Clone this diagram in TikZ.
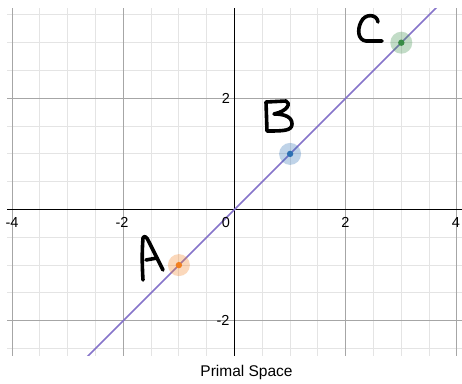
\documentclass[tikz,border=0pt]{standalone}
\usepackage{fontspec}
\setmainfont{Liberation Sans}
\begin{document}
\begin{tikzpicture}[x=1pt,y=-1pt]
\definecolor{minorgrid}{HTML}{E4E4E4}
\definecolor{majorgrid}{HTML}{A6A6A6}
\definecolor{lineviolet}{RGB}{134,116,202}
\definecolor{dotorange}{HTML}{F27F1F}
\definecolor{dotblue}{HTML}{2D70B3}
\definecolor{dotgreen}{HTML}{388C46}
\tikzset{
  minorline/.style={minorgrid, line width=0.9pt},
  majorline/.style={majorgrid, line width=1pt},
  axisline/.style={black, line width=1.5pt},
  ticklabel/.style={font=\fontsize{14.5}{14.5}\selectfont, inner sep=0pt},
  hand/.style={black, line width=3.6pt, line cap=round, line join=round},
  halo/.style={fill=#1, fill opacity=0.3},
  dotfill/.style={fill=#1},
}
\useasboundingbox (0,0) rectangle (462,383);
\fill[white] (0,0) rectangle (462,383);
\begin{scope}[shift={(234.5,209.5)}, x=55.6pt, y=55.6pt]
  \begin{scope}
    \clip (-4.09,-2.617) rectangle (4.2,3.61);
    \foreach \i in {-9,...,9} {
      \draw[minorline] (\i/2,-2.8) -- (\i/2,3.8);
      \draw[minorline] (-4.3,\i/2) -- (4.3,\i/2);
    }
    \foreach \i in {-4,-2,2,4} {
      \draw[majorline] (\i,-2.8) -- (\i,3.8);
      \draw[majorline] (-4.3,\i) -- (4.3,\i);
    }
    \draw[axisline] (-4.3,0) -- (4.3,0);
    \draw[axisline] (0,-2.8) -- (0,3.8);
    \coordinate (lineS) at (-2.8,-2.8);
    \coordinate (lineE) at (3.8,3.8);
    \draw[lineviolet, line width=1.7pt] (lineS) -- (lineE);
  \end{scope}
  \coordinate (A) at (-1,-1);
  \coordinate (B) at (1,1);
  \coordinate (C) at (3,3);
  \fill[halo=dotorange] (A) circle (11pt);
  \fill[dotfill=dotorange] (A) circle (3.2pt);
  \fill[halo=dotblue] (B) circle (11pt);
  \fill[dotfill=dotblue] (B) circle (3.2pt);
  \fill[halo=dotgreen] (C) circle (11pt);
  \fill[dotfill=dotgreen] (C) circle (3.2pt);
\end{scope}
% tick labels
\node[ticklabel] (xm4) at (12,222.5) {-4};
\node[ticklabel] (xm2) at (122,222.5) {-2};
\node[ticklabel] (x0) at (226,222.5) {0};
\node[ticklabel] (x2) at (345.5,222.5) {2};
\node[ticklabel] (x4) at (456,222.5) {4};
\node[ticklabel] (y2) at (226,98.3) {2};
\node[ticklabel] (ym2) at (223,320) {-2};
% handwritten letters
% A
\draw[hand] (143,280) .. controls (142,265) and (142,250) .. (143,238)
  .. controls (144,235) and (147,237) .. (149,242) -- (163,270);
\draw[hand] (146,260) -- (157,258);
% B
\draw[hand] (267,131) -- (266,102) -- (286,101)
  .. controls (291,103) and (288,111) .. (274,114)
  .. controls (285,114) and (292,117) .. (292,124)
  .. controls (292,131) and (283,131) .. (267,131);
% C
\draw[hand] (378,22) .. controls (377,14) and (365,13) .. (361,22)
  .. controls (357,30) and (358,40) .. (366,41) -- (382,41);
% title
\node[font=\fontsize{15.5}{15.5}\selectfont, inner sep=0pt, anchor=base] (title) at (246.5,376.5) {Primal Space};
\end{tikzpicture}
\end{document}
